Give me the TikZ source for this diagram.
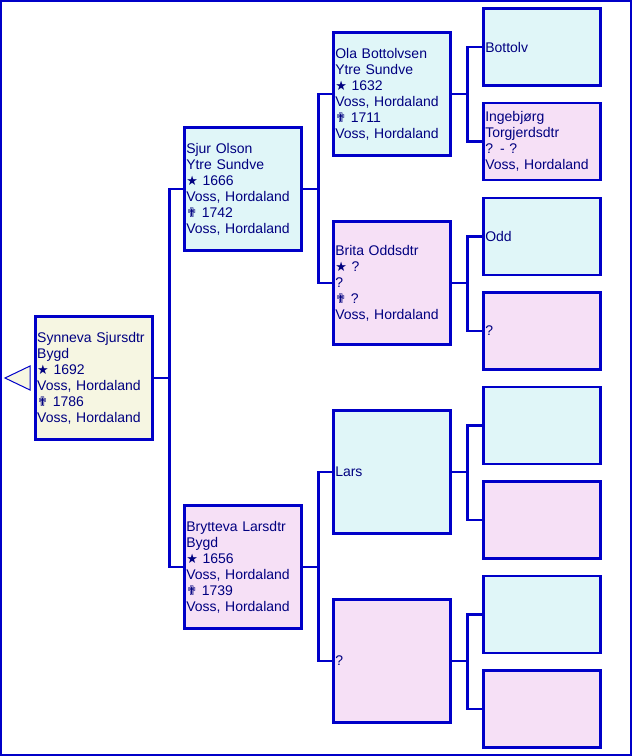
\documentclass[tikz,border=0pt]{standalone}
\usepackage{fontspec}
\setmainfont{Liberation Sans}
\newfontfamily\symfont{DejaVu Sans}
\usetikzlibrary{positioning}
\definecolor{boxblue}{RGB}{0,0,200}
\definecolor{textblue}{RGB}{0,0,128}
\definecolor{rootfill}{RGB}{246,246,226}
\definecolor{malefill}{RGB}{224,246,248}
\definecolor{femalefill}{RGB}{246,224,246}
\newcommand{\born}{{\symfont\fontsize{13}{16}\selectfont ★}}
\newcommand{\died}{{\symfont\fontsize{13}{16}\selectfont ✟}}

\begin{document}
\begin{tikzpicture}[
            x = 1pt, y = -1pt, % pixel grid, y runs down
            line width = 2.5pt, % line style
            draw = boxblue
        ]

        \tikzstyle{person}=[
            draw = boxblue,
            rectangle,
            text = textblue,
            text width = 113pt,
            inner xsep = 2pt,
            inner ysep = 0pt,
            minimum height = 123pt,
            align = left,
            anchor = west,
            font = \fontsize{14}{16}\selectfont
        ]
        \tikzstyle{root}=[person, fill = rootfill]
        \tikzstyle{male}=[person, fill = malefill]
        \tikzstyle{female}=[person, fill = femalefill]
        \tikzstyle{small}=[minimum height = 77pt]
        \tikzstyle{link}=[draw = boxblue, line width = 2.5pt]

        \useasboundingbox (0,0) rectangle (632,756);
        \draw (1,1) rectangle (631,755);

% proband
        \node[root] (syn) at (34,378) {Synneva Sjursdtr\\Bygd\\\born\ 1692\\Voss, Hordaland\\\died\ 1786\\Voss, Hordaland};
        \draw[line width = 1pt, fill = rootfill] (syn.west) ++(-4,-12) -- ++(-25,12) -- ++(25,12) -- cycle;

        % parents
        \node[male] (sjur) at (183,189) {Sjur Olson\\Ytre Sundve\\\born\ 1666\\Voss, Hordaland\\\died\ 1742\\Voss, Hordaland};
        \node[female] (bryt) at (183,567) {Brytteva Larsdtr\\Bygd\\\born\ 1656\\Voss, Hordaland\\\died\ 1739\\Voss, Hordaland};

        \draw[link] (syn.east) -- ++(16,0) |- (sjur.west);
        \draw[link] (syn.east) -- ++(16,0) |- (bryt.west);

        % grandparents
        \node[male] (ola) at (332,94) {Ola Bottolvsen\\Ytre Sundve\\\born\ 1632\\Voss, Hordaland\\\died\ 1711\\Voss, Hordaland};
        \node[female] (brita) at (332,283) {Brita Oddsdtr\\\born\ ?\\?\\\died\ ?\\Voss, Hordaland};
        \node[male] (lars) at (332,472) {Lars};
        \node[female] (bmor) at (332,661) {?};

        \draw[link] (sjur.east) -- ++(16,0) |- (ola.west);
        \draw[link] (sjur.east) -- ++(16,0) |- (brita.west);
        \draw[link] (bryt.east) -- ++(16,0) |- (lars.west);
        \draw[link] (bryt.east) -- ++(16,0) |- (bmor.west);

        % great-grandparents
        \node[male, small] (bottolv) at (482,47) {Bottolv};
        \node[female, small] (ingeb) at (482,141.5) {Ingebjørg\\Torgjerdsdtr\\? - ?\\Voss, Hordaland};
        \node[male, small] (odd) at (482,236.5) {Odd};
        \node[female, small] (brmor) at (482,331) {?};
        \node[male, small] (lfar) at (482,425.5) {};
        \node[female, small] (lmor) at (482,520) {};
        \node[male, small] (bmfar) at (482,614.5) {};
        \node[female, small] (bmmor) at (482,709) {};

        \draw[link] (ola.east) -- ++(16,0) |- (bottolv.west);
        \draw[link] (ola.east) -- ++(16,0) |- (ingeb.west);
        \draw[link] (brita.east) -- ++(16,0) |- (odd.west);
        \draw[link] (brita.east) -- ++(16,0) |- (brmor.west);
        \draw[link] (lars.east) -- ++(16,0) |- (lfar.west);
        \draw[link] (lars.east) -- ++(16,0) |- (lmor.west);
        \draw[link] (bmor.east) -- ++(16,0) |- (bmfar.west);
        \draw[link] (bmor.east) -- ++(16,0) |- (bmmor.west);

\end{tikzpicture}
\end{document}
